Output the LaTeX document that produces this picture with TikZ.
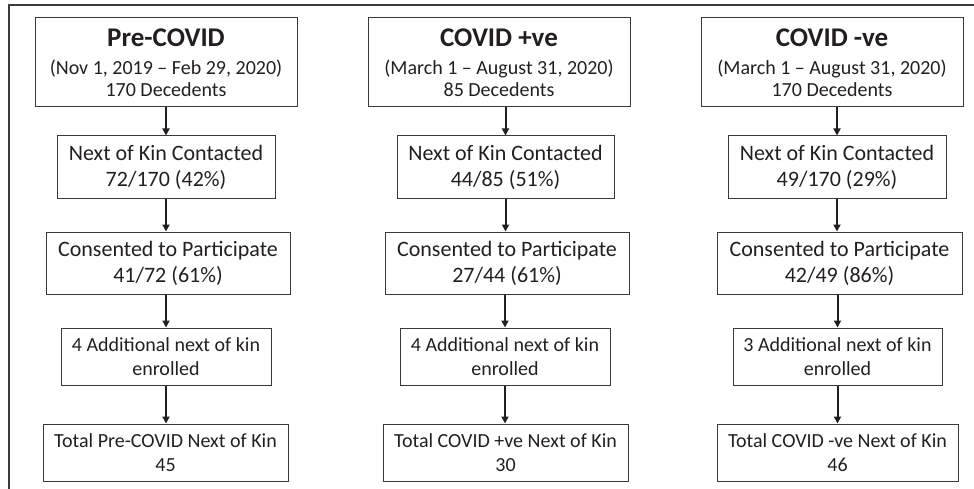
\documentclass[tikz,border=0pt]{standalone}
\usepackage{fontspec}
\setmainfont{Carlito}
\usetikzlibrary{arrows.meta}
\definecolor{boxc}{HTML}{3A3A3A}
\definecolor{txtc}{HTML}{231F20}
\definecolor{arrc}{HTML}{231F20}
\begin{document}
\begin{tikzpicture}[x=1pt,y=-1pt,
  box/.style={draw=boxc, line width=1pt, inner sep=0pt, align=center, text=txtc},
  sz/.style 2 args={minimum width=#1pt, minimum height=#2pt},
  ttl/.style={box, font=\fontsize{20}{22}\selectfont},
  mid/.style={box, font=\fontsize{22}{26}\selectfont},
  low/.style={box, font=\fontsize{20}{24}\selectfont},
  arr/.style={line width=2pt, draw=arrc, -{Triangle[length=7pt,width=7pt]}},
  frame/.style={draw=boxc, line width=1.6pt}]
\useasboundingbox (0,0) rectangle (974,489);
\coordinate (f1) at (9,489);
\coordinate (f2) at (9,5);
\coordinate (f3) at (974,5);
\draw[frame] (f1) -- (f2) -- (f3);
% column 1
\node[ttl, sz={262}{89}] (A1) at (166,62.5) {{\fontsize{27}{28}\bfseries Pre-COVID}\\[6pt](Nov 1, 2019 – Feb 29, 2020)\\170 Decedents};
\node[mid, sz={218}{63}] (B1) at (166,167.5) {Next of Kin Contacted\\72/170 (42\%)};
\node[mid, sz={244}{62}] (C1) at (168,263) {Consented to Participate\\41/72 (61\%)};
\node[low, sz={210}{57}] (D1) at (166,356.5) {4 Additional next of kin\\enrolled};
\node[low, sz={245}{57}] (E1) at (165.5,452.5) {Total Pre-COVID Next of Kin\\45};
% column 2
\node[ttl, sz={262}{89}] (A2) at (499,62.5) {{\fontsize{27}{28}\bfseries COVID +ve}\\[6pt](March 1 – August 31, 2020)\\85 Decedents};
\node[mid, sz={217}{63}] (B2) at (505.5,167.5) {Next of Kin Contacted\\44/85 (51\%)};
\node[mid, sz={244}{62}] (C2) at (507,263) {Consented to Participate\\27/44 (61\%)};
\node[low, sz={210}{57}] (D2) at (505,356.5) {4 Additional next of kin\\enrolled};
\node[low, sz={245}{57}] (E2) at (505.5,452.5) {Total COVID +ve Next of Kin\\30};
% column 3
\node[ttl, sz={262}{89}] (A3) at (832,62.5) {{\fontsize{27}{28}\bfseries COVID -ve}\\[6pt](March 1 – August 31, 2020)\\170 Decedents};
\node[mid, sz={218}{63}] (B3) at (837,167.5) {Next of Kin Contacted\\49/170 (29\%)};
\node[mid, sz={245}{62}] (C3) at (839.5,263) {Consented to Participate\\42/49 (86\%)};
\node[low, sz={209}{57}] (D3) at (837.5,356.5) {3 Additional next of kin\\enrolled};
\node[low, sz={241}{57}] (E3) at (837.5,452.5) {Total COVID -ve Next of Kin\\46};
% arrows
\foreach \c in {1,2,3}{
  \draw[arr] (B\c.north |- A\c.south) -- (B\c.north);
  \draw[arr] (B\c.south) -- (B\c.south |- C\c.north);
  \draw[arr] (D\c.north |- C\c.south) -- (D\c.north);
  \draw[arr] (D\c.south) -- (D\c.south |- E\c.north);
}
\end{tikzpicture}
\end{document}
